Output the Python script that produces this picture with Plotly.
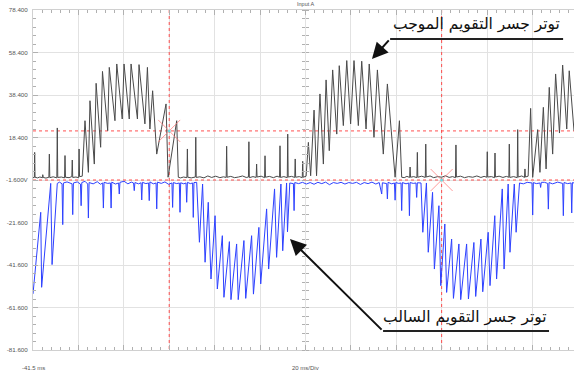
import plotly.graph_objects as go

# ---------------- data (time in ms, voltage in V) ----------------
black_t = [-41.5, -40.9, -40.77, -40.6, -39.5, -38.5, -37.3, -37.2, -37.0, -35.8, -34.5, -34.3, -34.1,
           -32.6, -31.0, -30.8, -30.6, -29.0, -27.6, -27.4, -27.2, -25.6, -24.4, -24.2, -24.0, -22.6,
           -21.4, -21.2, -21.0, -19.8,
           -18.6, -17.1, -16.4, -14.5, -13.7, -11.7, -10.9, -8.6, -7.9, -5.4, -4.6, -2.2, -1.4, 0.9,
           1.7, 4.5, 5.2, 7.8, 8.9, 10.0, 11.2, 13.0, 17.1, 18.0, 21.8, 22.5,
           23.5, 24.8, 26.3, 26.5, 26.7, 28.2, 30.0, 30.2, 30.4, 32.0, 33.8, 35.5, 37.2, 39.0, 40.8,
           42.4, 43.6, 43.8, 44.0, 45.6, 47.3, 49.0, 50.8, 52.4, 53.4, 53.6, 53.8, 55.4, 56.8, 57.0,
           57.2, 59.0, 60.5, 60.7, 60.9, 62.6, 64.4, 66.0, 67.1, 67.3, 67.5, 69.0, 70.5, 70.7, 70.9,
           72.4, 73.8, 74.0, 74.2, 75.8, 77.1, 77.3, 77.5, 78.8,
           79.8, 80.8, 82.3, 83.4, 84.9, 86.4, 87.6, 89.0, 90.5, 92.3, 93.4, 95.2, 96.7, 98.4, 99.9,
           101.8, 103.3, 105.2, 106.6, 108.7, 110.2, 112.8, 114.6, 118.0, 119.9, 120.9,
           122.0, 123.2, 124.4, 124.6, 124.8, 126.2, 127.6, 127.8, 128.0, 129.7, 131.3, 131.5, 131.7,
           133.4, 135.0, 136.8, 138.5, 140.2, 141.8, 143.3, 144.6, 144.8, 145.0, 146.8, 148.6, 150.4,
           152.2, 154.0, 155.8, 157.2, 158.4, 158.6, 158.8, 160.4, 161.8, 162.0, 162.2, 163.8, 165.5,
           167.0, 168.1, 168.3, 168.5, 170.2, 171.8, 172.0, 172.2, 173.8, 175.0, 175.2, 175.4, 176.6,
           177.7, 178.6, 180.8, 181.8, 183.3, 184.5, 185.9, 187.4, 188.7, 190.4, 191.8, 193.6, 194.7,
           196.8]
black_v = [-0.5, -0.4, 11.4, -0.3, -0.6, -0.2, -0.5, 0.9, -0.4, -0.7, -0.3, 10.6, -0.5,
           -0.1, -0.6, 22.9, -0.4, -0.2, -0.6, 9.9, -0.3, -0.5, 0.0, 7.8, -0.4, -0.2,
           -0.5, 13.0, 0.0, 0.2,
           26.3, 2.0, 35.7, 5.9, 43.9, 13.8, 49.5, 21.6, 51.4, 26.3, 53.0, 27.1, 53.0, 27.1,
           53.0, 27.1, 52.7, 24.8, 51.4, 22.4, 40.4, 10.6, 34.2, -0.3, 26.3, -0.3,
           -0.6, -0.2, -0.5, 13.0, -0.3, -0.6, -0.2, 18.5, -0.4, -0.1, -0.6, 0.3, -0.4, 0.2, -0.5,
           -0.1, -0.4, 14.3, -0.3, 0.1, -0.5, -0.2, 0.3, -0.4, -0.2, 16.4, -0.5, 0.0, -0.4, 5.9,
           -0.2, 0.2, -0.5, 9.8, -0.3, 0.1, -0.5, 0.2, -0.3, 14.5, -0.4, 0.0, -0.5, 20.0, -0.2,
           0.1, -0.4, 8.3, -0.3, 0.0, -0.5, 7.2, -0.3, 0.2,
           16.1, 0.4, 31.3, 0.4, 38.9, 5.9, 45.5, 12.2, 50.2, 20.0, 52.2, 24.0, 54.6, 24.8, 54.6,
           24.0, 54.3, 22.4, 53.0, 18.5, 50.2, 10.6, 43.6, -0.3, 26.3, -0.3,
           -0.5, 0.1, -0.4, 4.5, -0.3, 0.0, -0.5, 11.4, -0.3, 0.2, -0.4, 15.3, -0.2,
           0.3, -0.5, 0.0, -0.3, 0.4, -0.4, 0.0, -0.5, 14.9, -0.2, 0.2, -0.5, 0.0,
           -0.3, 0.3, -0.4, 0.1, -0.3, 11.7, -0.2, 0.0, -0.5, 11.1, -0.2, 0.2, -0.4,
           0.1, -0.3, 15.3, -0.4, 0.0, -0.5, 22.1, -0.2, 0.3, -0.4, 3.6, -0.2, 0.2,
           32.1, -0.35, 22.1, 2.0, 32.6, 3.6, 42.0, 10.6, 48.3, 20.5, 52.5, 22.4, 49.8,
           21.6]

blue_t = [-41.5, -38.1, -37.7, -33.7, -33.1, -30.8, -29.8, -28.7, -28.4, -28.1, -26.5, -24.3, -24.0,
          -23.7, -22.0, -20.6, -20.3, -20.0, -18.6, -17.4, -17.1, -16.8, -15.0, -13.2, -11.8, -10.8,
          -10.5, -10.2, -8.6, -7.4, -7.1, -6.8, -5.2, -3.8, -3.5, -3.2, -1.4, 0.3, 1.8, 2.8, 3.1, 3.4,
          5.0, 6.1, 6.4, 6.7, 8.2, 9.4, 9.7, 10.0, 11.5, 12.7, 13.0, 13.3, 15.0, 16.6, 18.2, 19.7,
          20.0, 20.3, 21.8, 22.95, 23.25, 23.55, 24.9, 25.9, 26.2, 26.5, 27.8, 28.8, 29.1, 29.4,
          30.6, 31.8, 33.2, 34.3, 35.7, 36.9, 38.7, 39.7, 41.9, 42.6, 45.0, 45.7, 48.2, 48.9, 51.4,
          52.2, 54.8, 55.6, 58.0, 58.8, 61.4, 62.3, 64.9, 65.8, 67.7, 68.5, 70.2, 70.6, 71.6, 73.2,
          73.5, 73.8,
          75.5, 77.2, 78.9, 80.6, 82.3, 84.0, 85.7, 87.4, 89.1, 90.8, 92.5, 94.2, 95.9, 97.6, 99.3,
          101.0, 102.7, 104.4, 106.1, 107.8, 109.5, 111.0, 112.1, 112.4, 114.3, 114.6, 114.9, 116.5,
          117.7, 118.0, 118.3, 119.6, 120.6, 120.9, 121.2, 122.8, 124.0, 124.3, 124.6, 126.0, 127.2,
          127.5, 127.8,
          129.4, 130.2, 131.8, 132.6, 134.5, 135.3, 137.3, 138.1, 139.9, 140.7, 142.9, 143.7, 146.1,
          146.9, 149.5, 150.3, 152.7, 153.5, 155.8, 156.6, 159.0, 159.8, 161.9, 162.7, 165.2, 166.0,
          167.8, 168.6, 170.5, 171.3, 172.8,
          174.5, 176.2, 178.3, 178.6, 178.9, 180.2, 181.8, 182.1, 182.4, 183.8, 185.2, 185.5, 185.8,
          187.4, 189.6, 191.8, 192.1, 192.4, 194.0, 195.5, 195.8, 196.1, 196.8]
blue_v = [-55.2, -16.8, -52.1, -3.2, -41.4, -3.2, -2.6, -3.4, -22.6, -3.0, -2.5, -3.4, -17.9,
          -3.0, -2.5, -3.5, -13.7, -2.8, -2.2, -3.5, -19.5, -2.8, -3.4, -2.4, -3.6, -3.0,
          -14.8, -2.7, -3.2, -3.0, -14.8, -2.6, -3.5, -3.0, -8.2, -2.7, -2.2, -3.4, -2.6, -3.0, -6.6, -2.8,
          -3.4, -2.9, -11.0, -2.7, -3.3, -3.0, -11.3, -2.5, -3.4, -3.0, -15.2, -2.6, -3.2, -2.5, -3.6, -3.0,
          -14.5, -2.8, -3.3, -3.0, -16.8, -2.9, -3.4, -3.0, -12.1, -2.7, -3.3, -3.0, -19.2, -2.8,
          -2.7, -30.9, -3.5, -40.3, -12.1, -48.2, -18.4, -52.9, -27.8, -56.8, -30.6, -57.9, -31.7, -57.9, -30.1,
          -57.3, -27.8, -55.3, -23.9, -50.5, -15.2, -43.5, -5.8, -38.0, -3.5, -34.9, -3.0, -26.0, -3.0, -3.3,
          -16.0, -2.8,
          -3.3, -2.7, -3.5, -2.8, -3.6, -2.7, -3.3, -2.6, -3.8, -2.8, -3.2, -2.7, -3.5, -2.8, -3.2,
          -2.7, -3.7, -2.8, -3.3, -2.6, -3.5, -2.8, -8.2, -2.9, -3.3, -10.5, -2.7, -3.4,
          -3.0, -11.1, -2.8, -3.2, -3.0, -16.0, -2.8, -3.4, -3.0, -18.4, -2.8, -3.2, -3.0,
          -9.8, -2.9,
          -3.0, -26.2, -3.0, -35.6, -7.4, -43.5, -13.7, -51.3, -22.3, -54.5, -29.4, -57.3, -31.7,
          -57.9, -31.7, -57.6, -31.0, -56.4, -29.4, -54.2, -26.2, -51.3, -18.4, -48.2, -5.8, -43.5,
          -3.5, -35.6, -3.5, -26.2, -3.0,
          -3.4, -2.7, -3.0, -18.1, -2.8, -3.3, -3.0, -5.1, -2.7, -2.7, -3.2, -15.3, -2.8,
          -3.4, -2.6, -3.2, -18.4, -2.8, -3.3, -3.0, -17.1, -2.8, -3.0]

y_ticks = [78.4, 58.4, 38.4, 18.4, -1.6, -21.6, -41.6, -61.6, -81.6]
y_labels = ["78.400", "58.400", "38.400", "18.400", "-1.600V", "-21.600", "-41.600", "-61.600", "-81.600"]

x_start, x_end, x_div = -41.5, 196.8, 20
y_min, y_max = -81.6, 78.4

cursor_t = [18.5, 138.5]          # vertical cursors (ms)
cursor_v = [21.5, -1.6]           # horizontal cursors (V)
cursor_top_v = 80.3
trigger_t, trigger_v = 0.0, -82.6

pos_label = "توتر جسر التقويم الموجب"
neg_label = "توتر جسر التقويم السالب"
pos_text_xy = (153.8, 72.0)
pos_line_t = [115.8, 192.0]
pos_line_v = 64.8
pos_arrow_tip = (107.8, 55.3)
neg_text_xy = (148.6, -66.2)
neg_line_t = [112.7, 185.8]
neg_line_v = -72.7
neg_arrow_tip = (71.7, -29.4)

# ---------------- figure ----------------
fig = go.Figure()

red = "rgba(255,60,60,0.9)"
for ct in cursor_t:
    fig.add_trace(go.Scatter(x=[ct, ct], y=[y_max, y_min], mode="lines",
                             line=dict(color=red, width=1, dash="dot"), hoverinfo="skip"))
for cv in cursor_v:
    fig.add_trace(go.Scatter(x=[x_start, x_end], y=[cv, cv], mode="lines",
                             line=dict(color=red, width=1, dash="dot"), hoverinfo="skip"))

fig.add_trace(go.Scatter(x=black_t, y=black_v, mode="lines",
                         line=dict(color="#4a4a4a", width=1), hoverinfo="skip"))
fig.add_trace(go.Scatter(x=blue_t, y=blue_v, mode="lines",
                         line=dict(color="rgb(45,65,255)", width=1), hoverinfo="skip"))

# cursor crossings
fig.add_trace(go.Scatter(x=cursor_t, y=cursor_v, mode="markers",
                         marker=dict(symbol="x-thin", size=22,
                                     line=dict(color="rgba(255,120,120,0.75)", width=1)),
                         hoverinfo="skip"))
fig.add_trace(go.Scatter(x=cursor_t, y=cursor_v, mode="markers",
                         marker=dict(symbol="circle", size=3, color="rgb(110,220,225)"),
                         hoverinfo="skip"))
fig.add_trace(go.Scatter(x=cursor_t, y=[cursor_top_v] * len(cursor_t), mode="markers",
                         marker=dict(symbol="square", size=4, color="rgb(255,40,40)"),
                         cliponaxis=False, hoverinfo="skip"))
fig.add_trace(go.Scatter(x=[trigger_t], y=[trigger_v], mode="markers",
                         marker=dict(symbol="triangle-up", size=4, color="black"),
                         cliponaxis=False, hoverinfo="skip"))

# underline bars of labels
fig.add_trace(go.Scatter(x=pos_line_t, y=[pos_line_v, pos_line_v], mode="lines",
                         line=dict(color="#222", width=2), hoverinfo="skip"))
fig.add_trace(go.Scatter(x=neg_line_t, y=[neg_line_v, neg_line_v], mode="lines",
                         line=dict(color="#222", width=2), hoverinfo="skip"))

# dummy traces for centre-axis ticks
fig.add_trace(go.Scatter(x=[None], y=[None], yaxis="y2", showlegend=False))
fig.add_trace(go.Scatter(x=[None], y=[None], yaxis="y3", showlegend=False))

arabic_font = dict(family="DejaVu Sans", size=15.5, color="#111")
fig.add_annotation(x=pos_text_xy[0], y=pos_text_xy[1], text=pos_label, showarrow=False,
                   font=arabic_font, xref="x", yref="y")
fig.add_annotation(x=neg_text_xy[0], y=neg_text_xy[1], text=neg_label, showarrow=False,
                   font=arabic_font, xref="x", yref="y")
fig.add_annotation(x=pos_arrow_tip[0], y=pos_arrow_tip[1], ax=pos_line_t[0], ay=pos_line_v,
                   xref="x", yref="y", axref="x", ayref="y", text="", showarrow=True,
                   arrowhead=2, arrowsize=1.6, arrowwidth=2, arrowcolor="#111")
fig.add_annotation(x=neg_arrow_tip[0], y=neg_arrow_tip[1], ax=neg_line_t[0], ay=neg_line_v,
                   xref="x", yref="y", axref="x", ayref="y", text="", showarrow=True,
                   arrowhead=2, arrowsize=1.6, arrowwidth=2, arrowcolor="#111")

small = dict(family="Liberation Sans, Arial", size=6, color="#555")
fig.add_annotation(x=x_start + 6 * x_div, y=1, xref="x", yref="paper",
                   text="Input A", showarrow=False, font=dict(family="Liberation Sans", size=5.5, color="#555"),
                   yanchor="bottom", yshift=1)
fig.add_annotation(x=x_start, y=0, xref="x", yref="paper", text="-41.5 ms", showarrow=False,
                   font=small, yanchor="middle", yshift=-18)
fig.add_annotation(x=x_start + 6 * x_div, y=0, xref="x", yref="paper", text="20 ms/Div", showarrow=False,
                   font=small, yanchor="middle", yshift=-18)

grid = "#e2e2e2"
tickc = "#b0b0b0"
fig.update_layout(
    width=574, height=378,
    margin=dict(l=33, r=0, t=10, b=28),
    paper_bgcolor="white", plot_bgcolor="white",
    showlegend=False,
    xaxis=dict(range=[x_start, x_end], tickmode="linear", tick0=x_start, dtick=x_div,
               showgrid=True, gridcolor=grid, gridwidth=1, zeroline=False,
               showticklabels=False, ticks="inside", ticklen=5, tickcolor=tickc,
               showline=True, linecolor="#d0d0d0", linewidth=1, mirror="ticks",
               minor=dict(tick0=x_start, dtick=x_div / 5, ticks="inside", ticklen=3,
                          tickcolor=tickc, showgrid=False)),
    yaxis=dict(range=[y_min, y_max], tickmode="array", tickvals=y_ticks, ticktext=y_labels,
               showgrid=True, gridcolor=grid, gridwidth=1, zeroline=False,
               ticks="inside", ticklen=5, tickcolor=tickc,
               tickfont=dict(family="Liberation Sans, Arial", size=6.2, color="#555"),
               ticklabelstandoff=3,
               showline=True, linecolor="#d0d0d0", linewidth=1,
               minor=dict(tick0=-1.6, dtick=4, ticks="inside", ticklen=3, tickcolor=tickc,
                          showgrid=False)),
    yaxis2=dict(range=[y_min, y_max], overlaying="y", anchor="free",
                position=(6 * x_div) / (x_end - x_start), side="left",
                tickmode="linear", tick0=-1.6, dtick=4, ticks="outside", ticklen=3,
                tickcolor=tickc, showticklabels=False, showgrid=False, zeroline=False,
                showline=False),
    yaxis3=dict(range=[y_min, y_max], overlaying="y", anchor="free",
                position=(6 * x_div) / (x_end - x_start), side="right",
                tickmode="linear", tick0=-1.6, dtick=4, ticks="outside", ticklen=3,
                tickcolor=tickc, showticklabels=False, showgrid=False, zeroline=False,
                showline=False),
)

fig.write_html("out.html", config={"displayModeBar": False},
               post_script="document.body.style.margin='0';document.body.style.overflow='hidden';")
